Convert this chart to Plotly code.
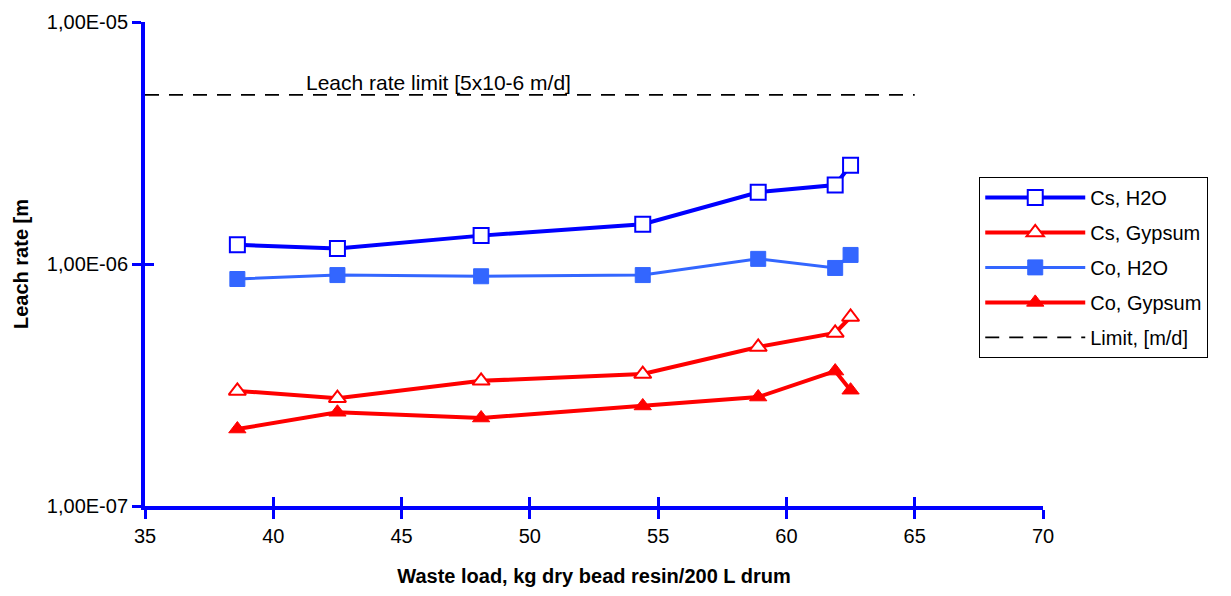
import plotly.graph_objects as go
import math

waste_load = [38.6, 42.5, 48.1, 54.4, 58.9, 61.9, 62.5]
cs_h2o = [1.20e-6, 1.16e-6, 1.31e-6, 1.46e-6, 1.98e-6, 2.12e-6, 2.56e-6]
cs_gypsum = [2.99e-7, 2.79e-7, 3.29e-7, 3.51e-7, 4.54e-7, 5.19e-7, 6.04e-7]
co_h2o = [0.867e-6, 0.90e-6, 0.89e-6, 0.90e-6, 1.05e-6, 0.963e-6, 1.09e-6]
co_gypsum = [2.08e-7, 2.44e-7, 2.31e-7, 2.59e-7, 2.82e-7, 3.61e-7, 3.01e-7]
limit_x = [35, 65]
limit_y = [5e-6, 5e-6]

x_ticks = [35, 40, 45, 50, 55, 60, 65, 70]
y_ticks = [1e-7, 1e-6, 1e-5]
y_ticklabels = ["1,00E-07", "1,00E-06", "1,00E-05"]

FONT = "Liberation Sans, Arial, sans-serif"
AXIS_BLUE = "#0000FF"
FS = 20

fig = go.Figure()
fig.add_trace(go.Scatter(
    x=waste_load, y=cs_h2o, name="Cs, H2O", mode="lines+markers", legendgroup="a",
    line=dict(color="#0000FF", width=4),
    marker=dict(symbol="square", size=15, color="white", line=dict(color="#0000FF", width=2)),
))
fig.add_trace(go.Scatter(
    x=waste_load, y=cs_gypsum, name="Cs, Gypsum", mode="lines+markers", legendgroup="b",
    line=dict(color="#FF0000", width=4),
    marker=dict(symbol="triangle-up", size=15, color="white", line=dict(color="#FF0000", width=2)),
))
fig.add_trace(go.Scatter(
    x=waste_load, y=co_h2o, name="Co, H2O", mode="lines+markers", legendgroup="c",
    line=dict(color="#3366FF", width=3),
    marker=dict(symbol="square", size=15, color="#3366FF", line=dict(color="#3366FF", width=1)),
))
fig.add_trace(go.Scatter(
    x=waste_load, y=co_gypsum, name="Co, Gypsum", mode="lines+markers", legendgroup="d",
    line=dict(color="#FF0000", width=4),
    marker=dict(symbol="triangle-up", size=15, color="#FF0000", line=dict(color="#FF0000", width=1)),
))
fig.add_trace(go.Scatter(
    x=limit_x, y=limit_y, name="Limit, [m/d]", mode="lines", legendgroup="e",
    line=dict(color="black", width=1.6, dash="14px,10px"),
))

fig.add_annotation(
    x=46.45, y=math.log10(5e-6), xref="x", yref="y",
    text="Leach rate limit [5x10-6 m/d]", showarrow=False,
    yanchor="bottom", yshift=-1, font=dict(family=FONT, size=21, color="black"),
)

fig.update_layout(
    width=1231, height=596,
    margin=dict(l=137, r=196, t=14, b=98),
    paper_bgcolor="white", plot_bgcolor="white",
    font=dict(family=FONT, size=FS, color="black"),
    showlegend=True,
    legend=dict(
        x=0.929, y=0.68, xanchor="left", yanchor="top",
        bordercolor="black", borderwidth=1, bgcolor="white",
        font=dict(family=FONT, size=FS, color="black"),
        tracegroupgap=6, itemwidth=100, traceorder="grouped",
    ),
    xaxis=dict(
        range=[35, 70], tickvals=x_ticks, ticks="outside", ticklen=9, tickwidth=3,
        tickcolor=AXIS_BLUE, showline=True, linecolor=AXIS_BLUE, linewidth=4,
        showgrid=False, zeroline=False, automargin=False,
        tickfont=dict(family=FONT, size=FS, color="black"),
        title=dict(text="<b>Waste load, kg dry bead resin/200 L drum</b>",
                   font=dict(family=FONT, size=FS, color="black"), standoff=24),
    ),
    yaxis=dict(
        type="log", range=[-7, -5], tickvals=y_ticks, ticktext=y_ticklabels,
        ticks="outside", ticklen=9, tickwidth=3, tickcolor=AXIS_BLUE,
        showline=True, linecolor=AXIS_BLUE, linewidth=4,
        showgrid=False, zeroline=False, automargin=False,
        tickfont=dict(family=FONT, size=FS, color="black"),
        title=dict(text="<b>Leach rate [m</b>",
                   font=dict(family=FONT, size=FS, color="black"), standoff=14),
    ),
    xaxis2=dict(
        overlaying="x", range=[35, 70], tickvals=x_ticks, ticks="inside", ticklen=9,
        tickwidth=3, tickcolor=AXIS_BLUE, showticklabels=False, showgrid=False,
        zeroline=False, showline=False, side="bottom", matches="x", automargin=False,
    ),
    yaxis2=dict(
        overlaying="y", type="log", range=[-7, -5], tickvals=y_ticks, ticks="inside",
        ticklen=9, tickwidth=3, tickcolor=AXIS_BLUE, showticklabels=False,
        showgrid=False, zeroline=False, showline=False, side="left", matches="y",
        automargin=False,
    ),
)

fig.add_trace(go.Scatter(x=[None], y=[None], xaxis="x2", yaxis="y2",
                         showlegend=False, hoverinfo="skip"))

fig.write_html("out.html")
